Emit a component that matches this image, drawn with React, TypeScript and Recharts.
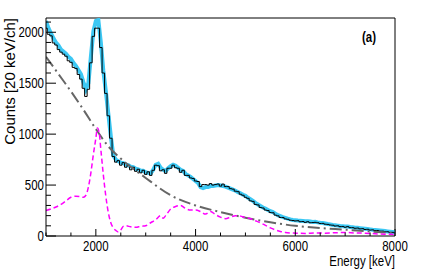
import { LineChart, Line, XAxis, YAxis, ReferenceLine } from 'recharts';

// 50 keV steps from 1000 to 8000
const energies = [
  1000, 1050, 1100, 1150, 1200, 1250, 1300, 1350, 1400, 1450,
  1500, 1550, 1600, 1650, 1700, 1750, 1800, 1850, 1900, 1950,
  2000, 2050, 2100, 2150, 2200, 2250, 2300, 2350, 2400, 2450,
  2500, 2550, 2600, 2650, 2700, 2750, 2800, 2850, 2900, 2950,
  3000, 3050, 3100, 3150, 3200, 3250, 3300, 3350, 3400, 3450,
  3500, 3550, 3600, 3650, 3700, 3750, 3800, 3850, 3900, 3950,
  4000, 4050, 4100, 4150, 4200, 4250, 4300, 4350, 4400, 4450,
  4500, 4550, 4600, 4650, 4700, 4750, 4800, 4850, 4900, 4950,
  5000, 5050, 5100, 5150, 5200, 5250, 5300, 5350, 5400, 5450,
  5500, 5550, 5600, 5650, 5700, 5750, 5800, 5850, 5900, 5950,
  6000, 6050, 6100, 6150, 6200, 6250, 6300, 6350, 6400, 6450,
  6500, 6550, 6600, 6650, 6700, 6750, 6800, 6850, 6900, 6950,
  7000, 7050, 7100, 7150, 7200, 7250, 7300, 7350, 7400, 7450,
  7500, 7550, 7600, 7650, 7700, 7750, 7800, 7850, 7900, 7950,
  8000,
];

const measured = [
  2040, 1980, 1965, 1895, 1875, 1830, 1805, 1785, 1765, 1720,
  1705, 1655, 1645, 1585, 1540, 1450, 1370, 1440, 1700, 1960,
  2040, 2040, 1850, 1600, 1400, 1180, 960, 780, 725, 740,
  695, 720, 675, 695, 650, 675, 635, 655, 620, 645,
  605, 630, 595, 645, 695, 690, 640, 650, 615, 665,
  665, 695, 670, 665, 625, 645, 595, 595, 570, 565,
  540, 535, 485, 505, 505, 500, 515, 500, 505, 510,
  490, 510, 485, 485, 465, 460, 440, 435, 410, 400,
  380, 370, 345, 340, 310, 305, 280, 275, 255, 250,
  230, 228, 205, 198, 182, 182, 168, 164, 155, 152,
  148, 150, 140, 142, 134, 140, 130, 132, 134, 130,
  123, 124, 116, 114, 108, 106, 98, 100, 92, 94,
  86, 92, 82, 82, 76, 78, 70, 72, 64, 66,
  58, 60, 53, 54, 48, 48, 42, 42, 35, 36,
  30,
];

const fitTotal = [
  2110, 2040, 1990, 1940, 1900, 1870, 1830, 1810, 1790, 1760,
  1740, 1700, 1670, 1630, 1590, 1510, 1440, 1500, 1760, 2010,
  2110, 2120, 1900, 1620, 1420, 1200, 980, 790, 750, 735,
  720, 715, 700, 695, 680, 675, 660, 655, 640, 640,
  625, 620, 615, 650, 700, 710, 670, 650, 640, 665,
  685, 700, 690, 670, 650, 640, 610, 595, 580, 560,
  540, 520, 480, 470, 480, 480, 490, 490, 495, 500,
  495, 490, 485, 475, 465, 455, 445, 430, 420, 405,
  395, 375, 360, 345, 325, 310, 295, 280, 270, 255,
  245, 235, 220, 205, 195, 185, 178, 170, 163, 158,
  155, 152, 150, 147, 144, 145, 142, 138, 140, 134,
  130, 127, 122, 117, 114, 108, 105, 102, 98, 96,
  94, 93, 88, 85, 82, 80, 77, 74, 71, 68,
  65, 62, 60, 57, 54, 51, 48, 45, 42, 39,
  36,
];

const bgEnergies = [1000, 1250, 1500, 1750, 2000, 2250, 2500, 3000, 3500, 4000, 4500, 5000, 5500, 6000, 6500, 7000, 7500, 8000];
const background = [1760, 1590, 1420, 1240, 1050, 880, 760, 570, 400, 300, 235, 180, 135, 100, 78, 62, 45, 30];

const peakEnergies = [
  1000, 1100, 1200, 1300, 1400, 1500, 1600, 1700, 1750, 1800,
  1850, 1900, 1950, 2000, 2030, 2070, 2100, 2150, 2200, 2250,
  2300, 2350, 2400, 2450, 2500, 2550, 2600, 2700, 2800, 2900,
  3000, 3100, 3200, 3300, 3350, 3400, 3500, 3600, 3700, 3800,
  3900, 4000, 4100, 4200, 4300, 4400, 4500, 4600, 4700, 4800,
  4900, 5000, 5100, 5200, 5300, 5400, 5500, 5600, 5700, 5800,
  5900, 6000, 6200, 6400, 6600, 6800, 7000, 7200, 7400, 7600,
  7800, 8000,
];
const peakComponent = [
  250, 265, 285, 310, 345, 380, 390, 385, 380, 400,
  480, 620, 800, 960, 1060, 1000, 850, 600, 390, 230,
  130, 80, 55, 40, 60, 95, 100, 90, 85, 95,
  100, 130, 160, 200, 175, 200, 265, 290, 300, 270,
  255, 255, 240, 215, 240, 210, 185, 170, 185, 200,
  195, 180, 170, 150, 130, 105, 80, 60, 45, 35,
  30, 28, 25, 30, 28, 32, 35, 30, 28, 22,
  18, 15,
];

const xTicks = [1000, 1500, 2000, 2500, 3000, 3500, 4000, 4500, 5000, 5500, 6000, 6500, 7000, 7500, 8000];
const xLabels = [2000, 4000, 6000, 8000];
const yTicks = [
  0, 100, 200, 300, 400, 500, 600, 700, 800, 900, 1000,
  1100, 1200, 1300, 1400, 1500, 1600, 1700, 1800, 1900, 2000, 2100,
];
const yLabels = [0, 500, 1000, 1500, 2000];

const W = 436;
const H = 273;
const M = { top: 18, right: 41, bottom: 37, left: 46 };
const FONT = '"Liberation Sans", Arial, sans-serif';

const hist = energies.map((e, i) => ({ e, v: measured[i] }));
const fit = energies.map((e, i) => ({ e, v: fitTotal[i] }));
const bg = bgEnergies.map((e, i) => ({ e, v: background[i] }));
const peak = peakEnergies.map((e, i) => ({ e, v: peakComponent[i] }));

// ROOT-style narrow labels: squeeze Liberation Sans horizontally
function Narrow({ x, y, anchor, size, bold, children }: any) {
  return (
    <text
      transform={`translate(${x},${y}) scale(0.82,1)`}
      textAnchor={anchor}
      fontSize={size}
      fontWeight={bold ? 'bold' : 'normal'}
      fontFamily={FONT}
      fill="#000"
    >
      {children}
    </text>
  );
}

function XTick(props: any) {
  const { x, y, payload } = props;
  const major = xLabels.includes(payload.value);
  return (
    <g>
      <line x1={x} x2={x} y1={y} y2={y - (major ? 7 : 3.5)} stroke="#000" />
      {major && <Narrow x={x} y={y + 15} anchor="middle" size={14}>{payload.value}</Narrow>}
    </g>
  );
}

function YTick(props: any) {
  const { x, y, payload } = props;
  const major = yLabels.includes(payload.value);
  return (
    <g>
      <line x1={x} x2={x + (major ? 10 : 5)} y1={y} y2={y} stroke="#000" />
      {major && <Narrow x={x - 2} y={y + 5} anchor="end" size={14}>{payload.value}</Narrow>}
    </g>
  );
}

export default function App() {
  return (
    <div style={{ position: 'absolute', left: 0, top: 0, width: W, height: H, background: '#fff' }}>
      <LineChart width={W} height={H} margin={{ top: M.top, right: M.right, bottom: 0, left: 0 }}>
        <XAxis
          type="number"
          dataKey="e"
          domain={[1000, 8000]}
          ticks={xTicks}
          interval={0}
          allowDataOverflow
          height={M.bottom}
          tickSize={0}
          tickMargin={0}
          tickLine={false}
          axisLine={{ stroke: '#000' }}
          tick={<XTick />}
        />
        <YAxis
          type="number"
          dataKey="v"
          domain={[0, 2140]}
          ticks={yTicks}
          interval={0}
          allowDataOverflow
          width={M.left}
          tickSize={0}
          tickMargin={0}
          tickLine={false}
          axisLine={{ stroke: '#000' }}
          tick={<YTick />}
        />
        <ReferenceLine y={2140} stroke="#000" ifOverflow="visible" />
        <ReferenceLine x={8000} stroke="#000" ifOverflow="visible" />
        <Line data={fit} dataKey="v" type="linear" stroke="#3cc8f4" strokeWidth={4} dot={false} isAnimationActive={false} />
        <Line data={hist} dataKey="v" type="step" stroke="#000" strokeWidth={1} dot={false} isAnimationActive={false} />
        <Line data={bg} dataKey="v" type="monotone" stroke="#666" strokeWidth={2} strokeDasharray="12 4 2 4" dot={false} isAnimationActive={false} />
        <Line data={peak} dataKey="v" type="monotone" stroke="#ff00ff" strokeWidth={1.5} strokeDasharray="5 3" dot={false} isAnimationActive={false} />
      </LineChart>
      <svg width={W} height={H} style={{ position: 'absolute', left: 0, top: 0, pointerEvents: 'none' }}>
        <text transform="translate(15, 18) rotate(-90)" textAnchor="end" fontSize={15} fontFamily={FONT} fill="#000">
          Counts [20 keV/ch]
        </text>
        <Narrow x={395} y={266} anchor="end" size={14}>Energy [keV]</Narrow>
        <Narrow x={362} y={42} anchor="start" size={14} bold>(a)</Narrow>
      </svg>
    </div>
  );
}
